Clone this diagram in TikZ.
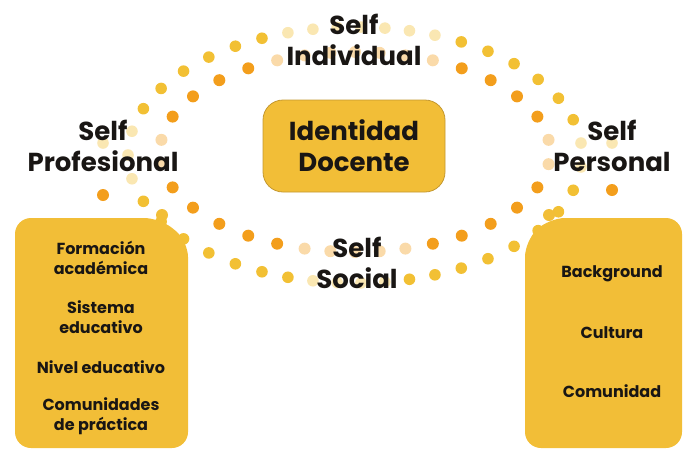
\documentclass[tikz,border=0pt]{standalone}
\usepackage{fontspec}
\setmainfont{Poppins}
\usepackage{tikz}
\usetikzlibrary{positioning}
\definecolor{ringin}{RGB}{243,158,28}
\definecolor{ringout}{RGB}{242,192,52}
\definecolor{boxfill}{RGB}{242,190,55}
\definecolor{boxline}{RGB}{196,152,48}
\definecolor{ink}{RGB}{25,22,20}

\begin{document}
\begin{tikzpicture}[x=1pt,y=-1pt,
  biglabel/.style={align=center, text=ink, inner sep=0pt,
    font=\fontsize{26}{31}\selectfont\bfseries},
  itemlabel/.style={align=center, text=ink, inner sep=0pt,
    font=\fontsize{16}{20}\selectfont\bfseries},
  panel/.style={fill=boxfill, rounded corners=16pt},
  knob/.style={fill=boxfill}]
\useasboundingbox (0,0) rectangle (687,453);
% Inner ring (orange), faded where the labels sit
\foreach \k in {0,...,33} {
  \pgfmathsetmacro{\ua}{(\k+0.5)*360/34}
  \pgfmathsetmacro{\ta}{\ua+9.2*sin(2*\ua)}
  \pgfmathsetmacro{\px}{355+195*cos(\ta)}
  \pgfmathsetmacro{\py}{152-100*sin(\ta)}
  \pgfmathsetmacro{\ds}{min(min(\ua,abs(\ua-180)),360-\ua)}
  \pgfmathsetmacro{\fade}{(abs(\ua-90)<38 || abs(\ua-270)<28 || \ds<11) ? 38 : 100}
  \fill[ringin!\fade!white] (\px,\py) circle[radius=6];}
% Outer ring (yellow)
\foreach \k in {0,...,42} {
  \pgfmathsetmacro{\ua}{(\k+0.5)*360/43}
  \pgfmathsetmacro{\ta}{\ua+8.1*sin(2*\ua)}
  \pgfmathsetmacro{\px}{355+227*cos(\ta)}
  \pgfmathsetmacro{\py}{155-128*sin(\ta)}
  \pgfmathsetmacro{\ds}{min(min(\ua,abs(\ua-180)),360-\ua)}
  \pgfmathsetmacro{\fade}{(abs(\ua-90)<28 || abs(\ua-270)<18 || \ds<10) ? 38 : 100}
  \fill[ringout!\fade!white] (\px,\py) circle[radius=5.8];}
% Stray dots beside the side labels
\fill[ringout!38!white] (103,143) circle[radius=5.8];
\fill[ringin] (103,195) circle[radius=6];
\fill[ringout!38!white] (612,143) circle[radius=5.8];
\fill[ringin] (612,190) circle[radius=6];
% Side panels
\fill[panel] (15,448) -- (15,218) -- (160,218) -- (188,241) -- (188,448) -- cycle;
\fill[knob] (162,215) circle[radius=6];
\fill[panel] (682,448) -- (682,218) -- (549,218) -- (525,241) -- (525,448) -- cycle;
\fill[knob] (549,215) circle[radius=6];
% Centre and ring labels
\node[biglabel, draw=boxline, fill=boxfill, line width=0.8pt, rounded corners=20pt,
  minimum width=182pt, minimum height=92pt] (identidad) at (354,146) {Identidad\\Docente};
\node[biglabel] (selfind) at (354,40) {Self\\Individual};
\node[biglabel] (selfprof) at (103,146) {Self\\Profesional};
\node[biglabel] (selfpers) at (612,146) {Self\\Personal};
\node[biglabel] (selfsoc) at (357,263) {Self\\Social};
% Panel items
\node[itemlabel] (formacion) at (101,258) {Formación\\académica};
\node[itemlabel] (sistema) at (101,317) {Sistema\\educativo};
\node[itemlabel] (nivel) at (101,367) {Nivel educativo};
\node[itemlabel] (comunidades) at (101,416) {Comunidades\\de práctica};
\node[itemlabel] (background) at (612,274) {Background};
\node[itemlabel] (cultura) at (612,333) {Cultura};
\node[itemlabel] (comunidad) at (612,391) {Comunidad};
\end{tikzpicture}
\end{document}
